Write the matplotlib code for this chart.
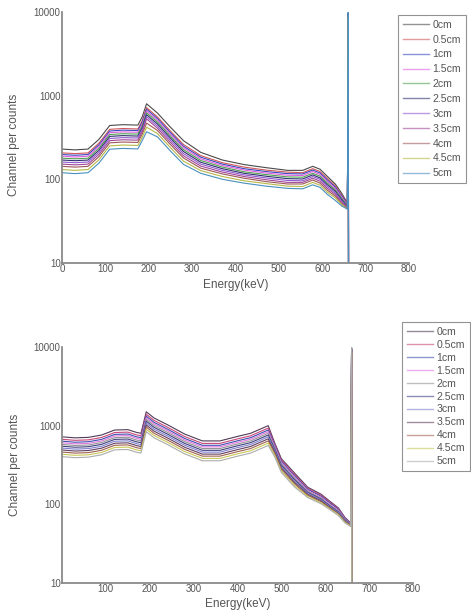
import matplotlib
matplotlib.use("Agg")
import matplotlib.pyplot as plt
from matplotlib.ticker import FixedLocator, NullLocator

plt.rcParams["font.family"] = ["Liberation Sans", "DejaVu Sans"]

labels = ["0cm", "0.5cm", "1cm", "1.5cm", "2cm", "2.5cm", "3cm", "3.5cm", "4cm", "4.5cm", "5cm"]

# ---------- top panel ----------
E_top = [0, 30, 60, 85, 110, 140, 175, 185, 195, 220, 250, 280, 320, 370, 420, 470, 520,
         555, 578, 595, 612, 630, 645, 658, 660, 660.6]
top_0cm = [230, 225, 230, 300, 440, 450, 445, 560, 800, 620, 420, 290, 210, 170, 150, 138, 128, 128, 143, 132, 108, 88, 68, 52, 9500, 5]
top_05cm = [207, 203, 207, 270, 396, 405, 400, 504, 720, 558, 378, 261, 192, 158, 140, 129, 122, 120, 134, 124, 102, 84, 65, 51, 9000, 5]
top_1cm = [198, 194, 198, 258, 378, 387, 383, 482, 688, 533, 361, 249, 184, 152, 134, 124, 117, 116, 129, 119, 98, 81, 63, 50, 9800, 5]
top_15cm = [189, 185, 189, 246, 361, 369, 365, 459, 656, 508, 344, 238, 176, 146, 129, 119, 112, 111, 124, 114, 94, 78, 61, 49, 8500, 5]
top_2cm = [179, 176, 179, 234, 343, 351, 347, 437, 624, 484, 328, 226, 168, 140, 123, 114, 107, 106, 118, 109, 90, 75, 59, 48, 9200, 5]
top_25cm = [170, 167, 170, 222, 326, 333, 329, 414, 592, 459, 311, 215, 160, 134, 118, 109, 102, 101, 113, 104, 86, 72, 57, 47, 9600, 5]
top_3cm = [161, 158, 161, 210, 308, 315, 312, 392, 560, 434, 294, 203, 152, 128, 113, 104, 97, 96, 108, 100, 82, 69, 55, 46, 8800, 5]
top_35cm = [152, 149, 152, 198, 290, 297, 294, 370, 528, 409, 277, 191, 144, 122, 108, 99, 92, 92, 103, 95, 78, 66, 53, 46, 9400, 5]
top_4cm = [143, 140, 143, 186, 273, 279, 276, 347, 470, 384, 260, 180, 136, 116, 103, 94, 88, 88, 98, 90, 74, 63, 51, 45, 9000, 5]
top_45cm = [131, 128, 131, 171, 251, 257, 254, 319, 420, 353, 239, 165, 127, 108, 96, 89, 83, 82, 92, 85, 70, 60, 50, 44, 8700, 5]
top_5cm = [120, 117, 120, 156, 229, 234, 231, 291, 370, 322, 218, 151, 118, 100, 90, 83, 78, 77, 86, 80, 66, 56, 48, 44, 9900, 5]
top_series = [top_0cm, top_05cm, top_1cm, top_15cm, top_2cm, top_25cm, top_3cm,
              top_35cm, top_4cm, top_45cm, top_5cm]
top_colors = ["#4a4a4a", "#d05858", "#3a48c0", "#e060e0", "#50a050", "#303070",
              "#9058d0", "#a04898", "#a05858", "#b8b848", "#4a90c0"]

# ---------- bottom panel ----------
E_bot = [2, 30, 60, 90, 120, 150, 170, 180, 192, 210, 240, 280, 320, 360, 400, 430, 455,
         470, 485, 500, 530, 560, 590, 610, 630, 645, 658, 660, 660.6]
bot_0cm = [720, 700, 710, 760, 880, 890, 820, 800, 1500, 1250, 1030, 780, 640, 640, 730, 800, 920, 1000, 600, 380, 250, 165, 135, 110, 90, 68, 58, 9500, 5]
bot_05cm = [670, 651, 660, 707, 818, 828, 763, 744, 1395, 1163, 958, 725, 595, 595, 679, 744, 856, 930, 580, 365, 240, 160, 131, 107, 88, 67, 57, 9300, 5]
bot_1cm = [634, 616, 625, 669, 774, 783, 722, 704, 1320, 1100, 906, 686, 563, 563, 642, 704, 810, 880, 560, 350, 230, 155, 127, 104, 86, 66, 57, 9800, 5]
bot_15cm = [605, 588, 596, 638, 739, 748, 689, 672, 1260, 1050, 865, 655, 538, 538, 613, 672, 773, 840, 540, 338, 222, 150, 123, 101, 84, 65, 56, 8800, 5]
bot_2cm = [576, 560, 568, 608, 704, 712, 656, 640, 1200, 1000, 824, 624, 512, 512, 584, 640, 736, 800, 520, 326, 214, 146, 120, 98, 82, 64, 56, 9100, 5]
bot_25cm = [547, 532, 540, 578, 669, 676, 623, 608, 1140, 950, 783, 593, 486, 486, 555, 608, 699, 760, 500, 314, 206, 142, 117, 96, 80, 63, 55, 9600, 5]
bot_3cm = [518, 504, 511, 547, 634, 641, 590, 576, 1080, 900, 742, 562, 461, 461, 526, 576, 662, 720, 480, 302, 198, 138, 114, 94, 78, 62, 55, 8900, 5]
bot_35cm = [490, 476, 483, 517, 598, 605, 558, 544, 1020, 850, 700, 530, 435, 435, 496, 544, 626, 680, 460, 290, 190, 134, 111, 92, 76, 61, 54, 9400, 5]
bot_4cm = [461, 448, 454, 486, 563, 570, 525, 512, 960, 800, 659, 499, 410, 410, 467, 512, 589, 640, 440, 278, 182, 130, 108, 90, 75, 60, 54, 9000, 5]
bot_45cm = [432, 420, 426, 456, 528, 534, 492, 480, 900, 750, 618, 468, 384, 384, 438, 480, 552, 600, 420, 266, 174, 126, 105, 88, 74, 59, 53, 8700, 5]
bot_5cm = [403, 392, 398, 426, 493, 498, 459, 448, 840, 700, 577, 437, 358, 358, 409, 448, 515, 560, 400, 254, 166, 122, 102, 86, 72, 58, 52, 9900, 5]
bot_series = [bot_0cm, bot_05cm, bot_1cm, bot_15cm, bot_2cm, bot_25cm, bot_3cm,
              bot_35cm, bot_4cm, bot_45cm, bot_5cm]
bot_colors = ["#503a58", "#c84878", "#4050b0", "#e078e0", "#949494", "#404080",
              "#8080d0", "#604060", "#a06050", "#c8c858", "#acacac"]

y_ticks = [10, 100, 1000, 10000]
y_ticklabels = ["10", "100", "1000", "10000"]
top_xticks = [0, 100, 200, 300, 400, 500, 600, 700, 800]
bot_xticks = [100, 200, 300, 400, 500, 600, 700, 800]

TXT = "#555555"
SPINE = "#8a8a8a"

fig = plt.figure(figsize=(4.71, 6.12), dpi=100)
ax1 = fig.add_axes([62 / 471, 1 - 263 / 612, 347 / 471, 251 / 612])
ax2 = fig.add_axes([62 / 471, 1 - 583 / 612, 351 / 471, 236 / 612])


def style(ax, xticks, series, colors, E, leg_xy, xl_off, yl_xy, lspace):
    for vals, c, lab in zip(series, colors, labels):
        ax.plot(E, vals, color=c, lw=0.8, label=lab)
    ax.set_yscale("log")
    ax.set_ylim(10, 10000)
    ax.set_xlim(0, 800)
    ax.yaxis.set_major_locator(FixedLocator(y_ticks))
    ax.set_yticklabels(y_ticklabels)
    ax.yaxis.set_minor_locator(NullLocator())
    ax.set_xticks(xticks)
    ax.set_xticklabels([str(t) for t in xticks])
    ax.tick_params(length=0, pad=1, labelsize=7, labelcolor=TXT)
    for s in ["top", "right"]:
        ax.spines[s].set_visible(False)
    for s in ["left", "bottom"]:
        ax.spines[s].set_color(SPINE)
        ax.spines[s].set_linewidth(1.3)
    ax.set_xlabel("Energy(keV)", fontsize=8.5, color=TXT)
    ax.set_ylabel("Channel per counts", fontsize=8.5, color=TXT)
    ax.xaxis.set_label_coords(0.5, xl_off)
    ax.yaxis.set_label_coords(*yl_xy)
    leg = ax.legend(loc="upper left", bbox_to_anchor=leg_xy, bbox_transform=fig.transFigure,
                    fontsize=7.6, frameon=True, fancybox=False, handlelength=2.5,
                    handletextpad=0.3, labelspacing=lspace, borderpad=0.45, borderaxespad=0)
    leg.get_frame().set_edgecolor("#777777")
    leg.get_frame().set_linewidth(0.8)
    for t in leg.get_texts():
        t.set_color(TXT)
    for h in leg.get_lines():
        h.set_alpha(0.6)
        h.set_linewidth(1.0)


style(ax1, top_xticks, top_series, top_colors, E_top, (398 / 471, 1 - 15 / 612), -0.065, (-0.12, 0.47), 0.46)
style(ax2, bot_xticks, bot_series, bot_colors, E_bot, (402 / 471, 1 - 322 / 612), -0.062, (-0.118, 0.5), 0.28)

fig.savefig("out.png", dpi=100)
